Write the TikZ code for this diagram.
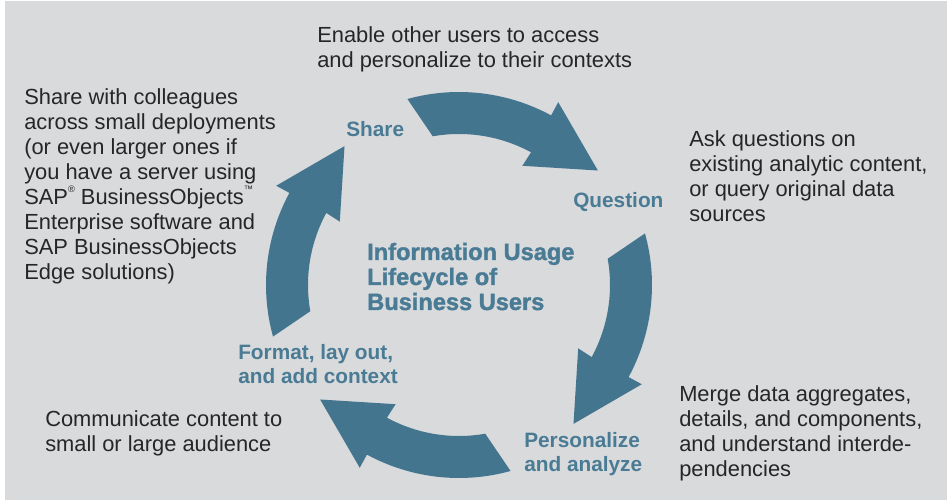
\documentclass[tikz,border=0pt]{standalone}
\usepackage{fontspec}
\setmainfont{Liberation Sans}
\newfontfamily\titlefont{Liberation Sans Bold}[FakeBold=1.5]

\definecolor{panelgray}{HTML}{D9DADC}
\definecolor{cycleblue}{HTML}{44758F}
\definecolor{stageblue}{HTML}{4A7B95}
\definecolor{notegray}{HTML}{262626}

\newcommand{\smallmark}[1]{\raisebox{0.55em}{\fontsize{7}{7}\selectfont #1}}

\begin{document}
\begin{tikzpicture}[x=0.75pt,y=0.75pt,
    every node/.style={inner sep=0pt},
    note/.style={font=\fontsize{16.4}{18.75}\selectfont, text=notegray, align=left, anchor=base west},
    stagelabel/.style={font=\fontsize{15.6}{18}\selectfont\bfseries, text=stageblue, align=left, anchor=base west}]
    \useasboundingbox (0,0) rectangle (947,500);

    %Panel
    \fill[white] (0,0) rectangle (947,500);
    \fill[panelgray] (5,0) rectangle (947,499);

    %Draw the four cycle arrows
    \coordinate (hub) at (459,215);
    \foreach \rot in {0,-90,-180,-270}{
        \begin{scope}[shift={(hub)}, rotate=\rot]
            \fill[cycleblue] (105.5:193) arc[start angle=105.5, end angle=61.5, radius=193]
                -- (61.5:208) -- (39.5:180) -- (62:135) -- (61.5:151)
                arc[start angle=61.5, end angle=100, radius=151] -- cycle;
        \end{scope}
    }

    %Stage names (anchored on the last line)
    \node[stagelabel] (share) at (346,363) {Share};
    \node[stagelabel] (question) at (573,292) {Question};
    \node[stagelabel] (personalize) at (524,28) {Personalize\\and analyze};
    \node[stagelabel] (format) at (238,116) {Format, lay out,\\and add context};

    %Title in the middle
    \node[font=\fontsize{17.7}{18.75}\selectfont\titlefont, text=stageblue, align=left, anchor=base west]
        (title) at (367,190) {Information Usage\\Lifecycle of\\Business Users};

    %Notes round the cycle
    \node[note] (sharenote) at (317,432) {Enable other users to access\\and personalize to their contexts};
    \node[note] (questionnote) at (689,278) {Ask questions on\\existing analytic content,\\or query original data\\sources};
    \node[note] (personalizenote) at (679,23) {Merge data aggregates,\\details, and components,\\and understand interde-\\pendencies};
    \node[note] (formatnote) at (45,48) {Communicate content to\\small or large audience};
    \node[note] (deploynote) at (24,220) {Share with colleagues\\across small deployments\\(or even larger ones if\\you have a server using\\SAP\smallmark{®} BusinessObjects\smallmark{™}\\Enterprise software and\\SAP BusinessObjects\\Edge solutions)};

\end{tikzpicture}
\end{document}
